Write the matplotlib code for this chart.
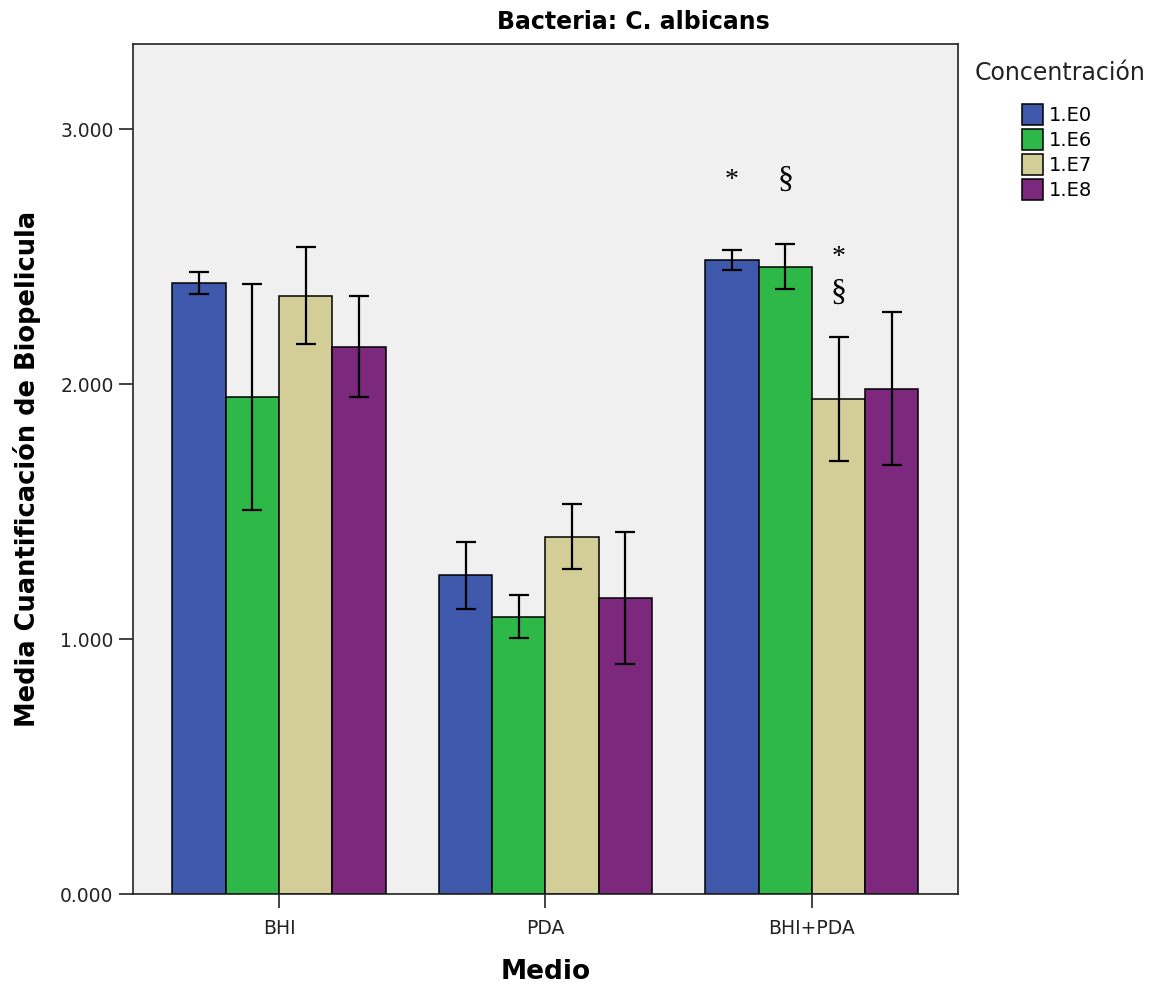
import numpy as np
import matplotlib.pyplot as plt
from matplotlib.patches import Patch

medios = ['BHI', 'PDA', 'BHI+PDA']
concentraciones = ['1.E0', '1.E6', '1.E7', '1.E8']
colores = ['#3E58AC', '#2EB848', '#D3CE97', '#7B287D']

# media por concentracion (filas) y medio (columnas)
medias = np.array([
    [2.396, 1.251, 2.487],
    [1.949, 1.089, 2.461],
    [2.347, 1.402, 1.942],
    [2.147, 1.161, 1.982],
])
errores = np.array([
    [0.042, 0.131, 0.038],
    [0.443, 0.083, 0.089],
    [0.190, 0.128, 0.243],
    [0.198, 0.260, 0.300],
])

# marcas de significancia: (medio, concentracion, texto, y)
marcas = [
    (2, 0, '*', 2.80),
    (2, 1, '§', 2.80),
    (2, 2, '*', 2.495),
    (2, 2, '§', 2.355),
]

fig = plt.figure(figsize=(11.52, 9.85), dpi=100)
ax = fig.add_axes([0.1155, 0.0921, 0.716, 0.863])
ax.set_facecolor('#F0F0F0')

x = np.arange(len(medios))
ancho = 0.2
for i in range(len(concentraciones)):
    pos = x + (i - 1.5) * ancho
    ax.bar(pos, medias[i], ancho, color=colores[i], edgecolor='black', linewidth=1.1, zorder=2)
    ax.errorbar(pos, medias[i], yerr=errores[i], fmt='none', ecolor='black',
                elinewidth=1.6, capsize=7.5, capthick=1.6, zorder=3)

for m, c, txt, y in marcas:
    ax.text(x[m] + (c - 1.5) * ancho, y, txt, ha='center', va='center',
            fontsize=23 if txt == '§' else 20, family='Liberation Serif')

ax.set_xlim(-0.548, 2.548)
ax.set_ylim(0, 3.333)
ax.set_xticks(x)
ax.set_xticklabels(medios, fontsize=13.5)
ax.set_yticks([0, 1, 2, 3])
ax.set_yticklabels(['0.000', '1.000', '2.000', '3.000'], fontsize=13.5)
ax.tick_params(axis='both', length=10, width=1.2, color='#222222', labelcolor='#222222', pad=4)
ax.tick_params(axis='x', pad=8)
for s in ax.spines.values():
    s.set_color('#222222')
    s.set_linewidth(1.2)

ax.set_xlabel('Medio', fontsize=19, fontweight='bold', labelpad=15)
ax.set_ylabel('Media Cuantificación de Biopelicula', fontsize=18.5, fontweight='bold', labelpad=14)
fig.text(633 / 1152, 1 - 22 / 985, 'Bacteria: C. albicans', ha='center', va='center',
         fontsize=17, fontweight='bold')

fig.text(975 / 1152, 1 - 73 / 985, 'Concentración', ha='left', va='center', fontsize=17, color='#222222')
handles = [Patch(facecolor=colores[i], edgecolor='black', linewidth=1.1) for i in range(4)]
fig.legend(handles, concentraciones, loc='upper left', bbox_to_anchor=(1022 / 1152, 1 - 104 / 985),
           frameon=False, fontsize=14, handlelength=1.1, handleheight=1.25,
           handletextpad=0.3, labelspacing=0.22, borderpad=0, borderaxespad=0)

plt.savefig('out.png', dpi=100)
